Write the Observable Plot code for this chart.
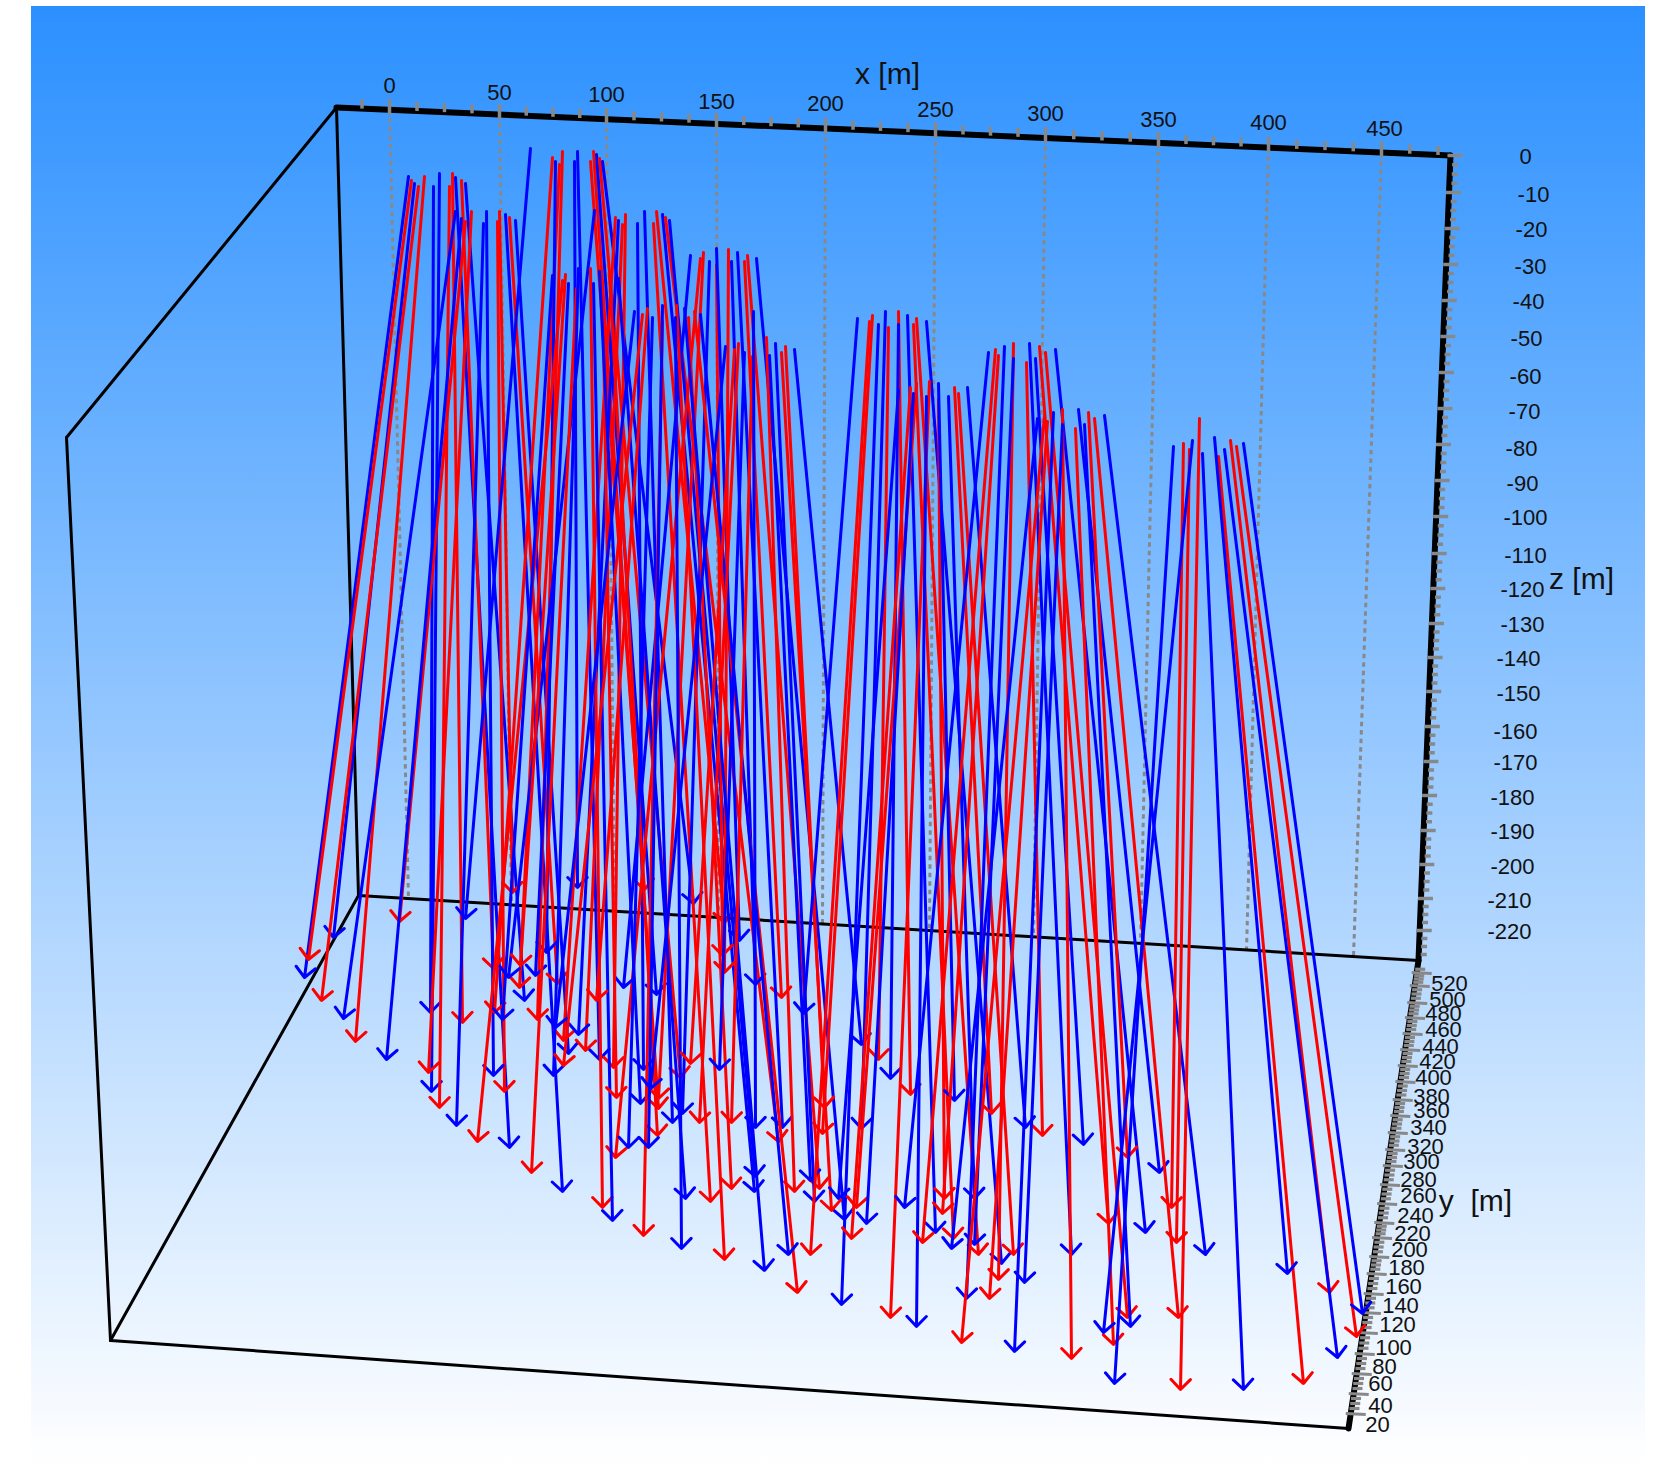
<!DOCTYPE html><html><head><meta charset="utf-8"><script src="https://cdn.jsdelivr.net/npm/d3@7"></script><script src="https://cdn.jsdelivr.net/npm/@observablehq/plot@0.6"></script></head><body style="margin:0;background:#fff"><div id="c"></div><script>
// Screen readings (px) of the projected 3D chart.
const redStartX=[411,418,424,449,452,461,465,471,497,499,509,552,559,562,590,593,599,615,622,625,653,656,665,700,703,716,728,744,747,562,565,576,590,602,609,642,647,662,676,688,694,734,738,752,766,781,785,869,872,888,898,913,916,910,916,929,938,954,958,995,998,1013,1026,1039,1045,1044,1047,1062,1075,1088,1094,1183,1189,1199,1218,1230,1236];
const redStartY=[180,186,176,186,173,180,221,211,221,211,217,157,164,151,161,151,158,217,224,214,223,211,217,258,252,264,249,261,255,280,274,288,268,280,275,314,308,321,305,317,311,349,343,356,337,352,346,321,315,327,311,324,318,387,383,381,399,387,393,349,355,343,362,346,352,415,421,409,428,412,418,443,449,418,456,440,446];
const redTips=[[308,959],[321,1000],[355,1041],[399,921],[428,1072],[439,1107],[477,1141],[531,1172],[602,1207],[643,1235],[724,1259],[462,1022],[493,968],[494,1012],[520,965],[519,987],[537,1019],[557,983],[512,892],[644,889],[724,922],[722,955],[724,972],[596,1000],[563,1065],[563,1040],[585,1050],[504,1091],[613,1067],[616,1097],[680,1077],[690,1063],[658,1098],[658,1108],[657,1135],[699,1122],[731,1122],[615,1157],[731,1188],[710,1201],[778,1141],[781,997],[794,1191],[810,1254],[797,1292],[890,1317],[961,1342],[1071,1358],[1180,1389],[1303,1383],[856,1207],[851,1238],[831,1210],[819,1188],[822,1133],[824,1107],[878,1059],[910,1094],[991,1113],[1042,1135],[1127,1157],[1171,1207],[1176,1242],[1108,1223],[1178,1317],[1127,1317],[1113,1344],[989,1298],[998,1279],[1013,1254],[978,1254],[953,1238],[922,1242],[942,1213],[944,1198],[1329,1292],[1356,1336]];
const redTipOf=[0,1,2,5,11,12,3,4,27,18,17,13,15,16,19,33,30,25,26,28,39,20,40,37,32,21,22,41,53,6,14,7,8,29,34,24,23,9,10,38,44,31,35,36,42,52,55,43,54,56,57,71,70,51,50,45,74,58,69,72,73,68,59,63,65,46,67,47,66,60,64,61,62,48,49,75,76];
const blueStartX=[408,414,433,439,455,465,455,461,483,486,505,515,530,555,574,577,596,602,594,618,637,644,662,669,690,709,716,731,737,756,552,568,578,593,599,618,634,652,662,675,684,700,725,744,753,769,775,794,857,878,885,898,907,926,898,913,926,938,948,967,988,1004,1013,1029,1035,1055,1037,1053,1062,1078,1084,1104,1173,1192,1202,1214,1224,1243];
const blueStartY=[176,183,186,173,177,183,211,218,223,211,214,220,148,161,161,151,154,161,210,220,223,211,214,220,255,261,248,261,252,258,275,283,268,283,271,278,311,317,305,317,308,314,346,352,311,355,343,349,318,324,311,324,315,321,390,393,396,383,396,387,352,346,358,343,358,349,418,412,424,409,424,415,446,440,453,437,449,443];
const blueTips=[[333,937],[304,977],[343,1018],[386,1059],[465,918],[430,1012],[431,1091],[456,1125],[509,1147],[562,1191],[612,1220],[681,1248],[508,977],[502,1019],[535,975],[524,1000],[546,952],[577,887],[693,903],[739,940],[755,984],[623,987],[656,994],[555,1027],[578,1034],[568,1053],[599,1059],[493,1075],[553,1075],[640,1103],[643,1069],[719,1069],[650,1088],[672,1122],[682,1113],[755,1127],[628,1147],[648,1147],[755,1176],[754,1191],[685,1198],[782,1127],[803,1013],[788,1254],[764,1270],[841,1304],[916,1326],[1014,1351],[1114,1383],[1243,1389],[904,1207],[866,1223],[844,1219],[838,1198],[814,1201],[810,1180],[861,1128],[861,1044],[890,1078],[954,1100],[1025,1127],[1083,1144],[1159,1172],[1145,1232],[1071,1254],[1205,1254],[1287,1273],[1130,1326],[1103,1332],[966,1298],[1024,1282],[1001,1263],[974,1244],[951,1248],[935,1232],[974,1198],[1337,1357],[1362,1313]];
const blueTipOf=[1,0,5,6,8,15,2,3,7,27,9,25,4,16,17,26,22,18,12,24,30,33,39,38,21,34,19,20,41,52,13,14,28,10,29,40,23,36,37,11,44,43,32,31,35,55,54,57,42,45,56,58,74,71,53,51,46,59,75,60,50,69,72,64,61,63,73,47,70,62,67,65,48,68,49,66,76,77];

const xTickValues=[0,50,100,150,200,250,300,350,400,450];
const xTickTopX=[389,499,606,716,825,935,1045,1158,1268,1381];
const xTickBottomX=[408,511,614,718,822,929,1033,1140,1246,1353];
const xLabelY=[85,92,94,101,103,109,113,119,122,128];
const xLabelX=[389,499,606,716,825,935,1045,1158,1268,1384];
const zTickValues=d3.range(0,-230,-10);
const zTickY=[155,192,228,264,300,336,372,408,444,480,516,553,588,623,657,691,726,761,795,830,864,898,930];
const zLabelX=[1525,1533,1531,1530,1528,1526,1525,1524,1521,1522,1525,1525,1522,1522,1518,1518,1515,1515,1512,1512,1512,1509,1509];
const zLabelY=[156,194,229,266,301,338,376,411,448,483,517,555,589,624,658,693,731,762,797,831,866,900,931];
const yTickValues=d3.range(520,0,-20);
const yTickY=[972,985,1002,1017,1033,1049,1065,1081,1099,1115,1132,1149,1165,1184,1203,1222,1237,1256,1273,1293,1312,1332,1353,1373,1393,1413];
const yLabelX=[1449,1447,1443,1443,1440,1437,1433,1431,1431,1428,1425,1421,1418,1418,1415,1412,1409,1406,1403,1400,1397,1393,1384,1380,1380,1377];
const yLabelY=[983,999,1013,1029,1046,1061,1077,1096,1110,1127,1146,1161,1179,1195,1215,1233,1249,1267,1286,1305,1324,1347,1366,1383,1405,1424];

const frameX1=[336,66,110,358,358,336], frameY1=[107,437,1340,895,895,107], frameX2=[66,110,1348,110,1418,358], frameY2=[437,1340,1428,1340,960,895];
const thickX1=[336,1450,1418], thickY1=[107,155,960], thickX2=[1450,1418,1348], thickY2=[155,960,1428];

// Arrows
const arrows=[];
const n=Math.max(redTipOf.length,blueTipOf.length);
for(let i=0;i<n;i++){
  if(i<blueTipOf.length){const t=blueTips[blueTipOf[i]];arrows.push({x1:blueStartX[i],y1:blueStartY[i],x2:t[0],y2:t[1],c:"#0000ff"});}
  if(i<redTipOf.length){const t=redTips[redTipOf[i]];arrows.push({x1:redStartX[i],y1:redStartY[i],x2:t[0],y2:t[1],c:"#ff0000"});}
}
// Axis helpers: positions along the box edges
const topEdgeY=x=>107+(x-336)*(48/1114);
const backEdgeY=x=>895+(x-358)*(65/1060);
const zEdgeX=y=>1450-(y-155)*(32/805);
const yEdgeX=y=>1418-(y-960)*(70/468);
const xGrid=xTickTopX.map((x,i)=>({x1:x,y1:topEdgeY(x),x2:xTickBottomX[i],y2:backEdgeY(xTickBottomX[i])}));
const xMajor=xTickTopX.map(x=>({x1:x,y1:topEdgeY(x)-11,x2:x,y2:topEdgeY(x)+5}));
const xMinor=[];
{const sc=d3.scaleLinear().domain(xTickValues).range(xTickTopX);
 d3.range(-12.5,487.5,12.5).filter(v=>v%50!==0).forEach(v=>{const x=sc(v);xMinor.push({x1:x,y1:topEdgeY(x)-9,x2:x,y2:topEdgeY(x)});});}
const zMajor=zTickY.map(y=>({x1:zEdgeX(y)-3,y1:y,x2:zEdgeX(y)+12,y2:y}));
const zMinor=[];
{const sc=d3.scaleLinear().domain(zTickValues).range(zTickY);
 d3.range(0,-230,-2.5).filter(v=>v%10!==0).forEach(v=>{const y=sc(v);zMinor.push({x1:zEdgeX(y)+2,y1:y,x2:zEdgeX(y)+8,y2:y});});}
const yMajor=yTickY.map(y=>({x1:yEdgeX(y)-5,y1:y,x2:yEdgeX(y)+15,y2:y+1}));
const yMinor=[];
{const sc=d3.scaleLinear().domain(yTickValues).range(yTickY);
 d3.range(525,15,-5).filter(v=>v%20!==0).forEach(v=>{const y=sc(v);yMinor.push({x1:yEdgeX(y)-2,y1:y,x2:yEdgeX(y)+8,y2:y});});}
const idx=a=>a.map((_, i)=>i);
const font="Liberation Sans, Arial, sans-serif";
const gradient=()=>{const s=d3.create("svg:defs");const g=s.append("linearGradient").attr("id","bg").attr("x1",0).attr("x2",0).attr("y1",0).attr("y2",1);
 g.append("stop").attr("offset",0).attr("stop-color","#2b90ff");
 g.append("stop").attr("offset",1).attr("stop-color","#ffffff");return s.node();};
const seg=(d,o)=>Plot.link(d,{x1:"x1",y1:"y1",x2:"x2",y2:"y2",curve:"linear",...o});
const labels=(t,xs,ys)=>Plot.text(idx(t),{x:i=>xs[i],y:i=>ys[i],text:i=>String(t[i]),fontSize:22,fill:"#111",fontFamily:font,textAnchor:"middle",lineAnchor:"middle"});
const frame=(X1,Y1,X2,Y2,w)=>Plot.link(idx(X1),{x1:i=>X1[i],y1:i=>Y1[i],x2:i=>X2[i],y2:i=>Y2[i],stroke:"#000",strokeWidth:w,curve:"linear",strokeLinecap:"round"});
const title=(s,x,y)=>Plot.text([s],{x:()=>x,y:()=>y,text:d=>d,fontSize:30,fill:"#111",fontFamily:font,textAnchor:"middle",lineAnchor:"middle"});
const plot=Plot.plot({width:1664,height:1466,margin:0,
 x:{domain:[0,1664],range:[0,1664],axis:null},y:{domain:[0,1466],range:[0,1466],axis:null},
 marks:[gradient,
  Plot.rect([0],{x1:()=>31,x2:()=>1645,y1:()=>6,y2:()=>1466,fill:"url(#bg)"}),
  seg(xGrid,{stroke:"#888",strokeWidth:3,strokeDasharray:"4.5 4"}),
  frame(frameX1,frameY1,frameX2,frameY2,3),
  frame(thickX1,thickY1,thickX2,thickY2,6),
  seg(xMajor,{stroke:"#888",strokeWidth:3.5}),seg(xMinor,{stroke:"#888",strokeWidth:3.5}),
  seg(zMajor,{stroke:"#888",strokeWidth:3.5}),seg(zMinor,{stroke:"#888",strokeWidth:3.5}),
  seg(yMajor,{stroke:"#888",strokeWidth:3.2}),seg(yMinor,{stroke:"#888",strokeWidth:3.2}),
  Plot.arrow(arrows,{x1:"x1",y1:"y1",x2:"x2",y2:"y2",stroke:"c",strokeWidth:3,headAngle:88,headLength:7,strokeLinecap:"round"}),
  labels(xTickValues,xLabelX,xLabelY),labels(zTickValues,zLabelX,zLabelY),labels(yTickValues,yLabelX,yLabelY),
  title("x [m]",887,74),title("z [m]",1581,579),title("y\u00a0 [m]",1475,1201)
 ]});
plot.style.display="block";plot.style.background="transparent";
document.getElementById("c").append(plot);
</script></body></html>
